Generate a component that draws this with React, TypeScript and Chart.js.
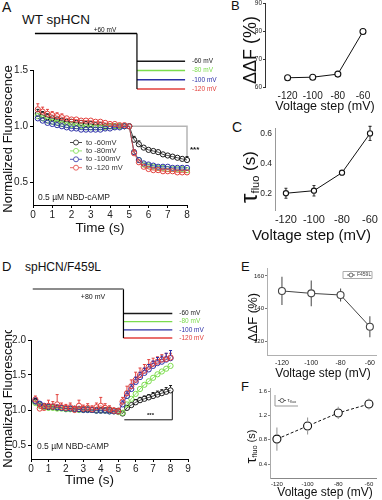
import React, { useEffect, useRef } from 'react';
import { Chart, registerables } from 'chart.js';
Chart.register(...registerables);

const FONT = "Arial, 'Liberation Sans', Helvetica, sans-serif";

// ---------------- data ----------------
const TIME_A = [0.25, 0.5, 0.75, 1.0, 1.25, 1.5, 1.75, 2.0, 2.25, 2.5, 2.75, 3.0, 3.25, 3.5, 3.75, 4.0, 4.25, 4.5, 4.75, 5.0, 5.25, 5.5, 5.75, 6.0, 6.25, 6.5, 6.75, 7.0, 7.25, 7.5, 7.75, 8.0];
const A_M60 = [1.11, 1.10, 1.08, 1.07, 1.06, 1.05, 1.04, 1.04, 1.03, 1.03, 1.02, 1.02, 1.01, 1.01, 1.00, 1.00, 1.00, 1.00, 1.00, 1.00, 0.88, 0.84, 0.81, 0.79, 0.78, 0.77, 0.75, 0.74, 0.73, 0.72, 0.71, 0.70];
const A_M60_ERR = [0.04, 0.03, 0.03, 0.02, 0.02, 0.02, 0.02, 0.02, 0.02, 0.02, 0.01, 0.01, 0.01, 0.01, 0.01, 0.01, 0.01, 0.01, 0.01, 0.01, 0.03, 0.03, 0.02, 0.02, 0.02, 0.02, 0.02, 0.02, 0.02, 0.02, 0.02, 0.03];
const A_M80 = [1.09, 1.07, 1.05, 1.04, 1.03, 1.02, 1.01, 1.01, 1.00, 1.00, 0.99, 0.99, 0.99, 0.99, 0.99, 1.00, 1.00, 1.00, 1.00, 1.00, 0.77, 0.70, 0.66, 0.65, 0.64, 0.63, 0.63, 0.62, 0.62, 0.62, 0.62, 0.61];
const A_M100 = [1.07, 1.05, 1.03, 1.02, 1.01, 1.00, 0.99, 0.98, 0.98, 0.97, 0.97, 0.97, 0.97, 0.97, 0.98, 0.98, 0.99, 0.99, 1.00, 1.00, 0.77, 0.70, 0.67, 0.66, 0.65, 0.64, 0.64, 0.64, 0.63, 0.63, 0.63, 0.63];
const A_M120 = [1.15, 1.13, 1.11, 1.10, 1.09, 1.08, 1.07, 1.06, 1.06, 1.05, 1.05, 1.05, 1.04, 1.04, 1.03, 1.02, 1.02, 1.01, 1.01, 1.00, 0.76, 0.68, 0.64, 0.62, 0.61, 0.61, 0.60, 0.60, 0.60, 0.59, 0.59, 0.59];
const A_M120_ERR = [0.05, 0.04, 0.04, 0.03, 0.03, 0.03, 0.02, 0.02, 0.02, 0.02, 0.02, 0.02, 0.02, 0.02, 0.02, 0.01, 0.01, 0.01, 0.01, 0.01, 0.03, 0.02, 0.02, 0.02, 0.02, 0.02, 0.02, 0.02, 0.02, 0.02, 0.02, 0.02];
const A_BRACKET = [{ x: 5.05, y: 1.0 }, { x: 8.0, y: 1.0 }, { x: 8.0, y: 0.72 }];

const TIME_D = [0.25, 0.5, 0.75, 1.0, 1.25, 1.5, 1.75, 2.0, 2.25, 2.5, 2.75, 3.0, 3.25, 3.5, 3.75, 4.0, 4.25, 4.5, 4.75, 5.0, 5.25, 5.5, 5.75, 6.0, 6.25, 6.5, 6.75, 7.0, 7.25, 7.5, 7.75, 8.0];
const D_M60 = [1.12, 1.08, 1.05, 1.04, 1.04, 1.03, 1.03, 1.02, 1.02, 1.02, 1.01, 1.01, 1.01, 1.00, 1.00, 1.00, 1.00, 1.00, 0.99, 0.99, 0.95, 1.03, 1.07, 1.11, 1.14, 1.16, 1.18, 1.20, 1.22, 1.24, 1.26, 1.28];
const D_M60_ERR = [0.04, 0.03, 0.03, 0.03, 0.02, 0.02, 0.02, 0.02, 0.02, 0.02, 0.02, 0.02, 0.02, 0.02, 0.02, 0.02, 0.02, 0.02, 0.02, 0.02, 0.03, 0.03, 0.03, 0.04, 0.04, 0.04, 0.04, 0.05, 0.05, 0.05, 0.06, 0.07];
const D_M80 = [1.10, 1.06, 1.04, 1.03, 1.03, 1.02, 1.02, 1.01, 1.01, 1.01, 1.00, 1.00, 1.00, 1.00, 0.99, 0.99, 0.99, 0.98, 0.98, 0.97, 0.96, 1.08, 1.16, 1.23, 1.30, 1.36, 1.41, 1.46, 1.51, 1.55, 1.59, 1.63];
const D_M100 = [1.13, 1.09, 1.06, 1.05, 1.05, 1.04, 1.03, 1.02, 1.02, 1.01, 1.01, 1.00, 1.00, 1.00, 0.99, 0.99, 0.99, 0.98, 0.98, 0.98, 1.08, 1.20, 1.30, 1.40, 1.47, 1.53, 1.58, 1.63, 1.67, 1.69, 1.72, 1.74];
const D_M100_ERR = [0.04, 0.03, 0.03, 0.03, 0.03, 0.03, 0.03, 0.03, 0.03, 0.03, 0.03, 0.03, 0.03, 0.03, 0.03, 0.03, 0.03, 0.03, 0.03, 0.03, 0.05, 0.06, 0.06, 0.07, 0.07, 0.07, 0.07, 0.07, 0.08, 0.08, 0.09, 0.11];
const D_M120 = [1.15, 1.02, 1.03, 1.06, 1.05, 1.08, 1.04, 1.03, 1.04, 1.00, 1.06, 1.02, 1.03, 1.01, 1.04, 1.06, 1.03, 1.01, 0.99, 0.98, 1.12, 1.24, 1.34, 1.43, 1.50, 1.56, 1.62, 1.66, 1.69, 1.72, 1.73, 1.75];
const D_M120_ERR = [0.05, 0.06, 0.06, 0.08, 0.07, 0.14, 0.06, 0.05, 0.06, 0.05, 0.08, 0.05, 0.06, 0.05, 0.06, 0.12, 0.06, 0.05, 0.04, 0.04, 0.06, 0.10, 0.09, 0.11, 0.10, 0.09, 0.10, 0.08, 0.07, 0.07, 0.08, 0.06];
const D_BRACKET = [{ x: 5.35, y: 0.86 }, { x: 8.1, y: 0.86 }, { x: 8.1, y: 1.27 }];

const SERIES_COLORS = ['#1a1a1a', '#7bdc4c', '#2b2fa6', '#e2403c'];
const LEGEND_A = ['to -60mV', 'to -80mV', 'to -100mV', 'to -120 mV'];
const STEP_LABELS = ['-60 mV', '-80 mV', '-100 mV', '-120 mV'];
const PROTO_LEVELS_A = ['+60 mV', 'gap1', 'gap2', '-60 mV', '-80 mV', '-100 mV', '-120 mV'];
const PROTO_LEVELS_D = ['+80 mV', 'gap1', 'gap2', '-60 mV', '-80 mV', '-100 mV', '-120 mV'];
const PROTO_TIMES_A = [0.1, 5.4, 7.9];
const PROTO_TIMES_D = [0.1, 5.3, 8.1];

const A_XTICKS = [0, 1, 2, 3, 4, 5, 6, 7, 8];
const A_YTICKS = [0.5, 1.0, 1.5];
const D_XTICKS = [0, 1, 2, 3, 4, 5, 6, 7, 8, 9];
const D_YTICKS = [0.5, 1.0, 1.5, 2.0];

const VOLTAGES = [-120, -100, -80, -60];
const B_DDF = [63.3, 63.5, 64.6, 79.8];
const B_YTICKS = [60, 70, 80, 90];
const C_TAU = [0.205, 0.222, 0.342, 0.604];
const C_TAU_ERR = [0.033, 0.035, 0.01, 0.047];
const C_YTICKS = [0.2, 0.4, 0.6];
const E_DDF = [150.8, 149.3, 148.3, 128.8];
const E_DDF_ERR = [8.7, 7.9, 4.0, 6.5];
const E_YTICKS = [120, 140, 160];
const F_TAU = [0.81, 1.025, 1.24, 1.386];
const F_TAU_ERR = [0.19, 0.14, 0.1, 0.09];
const F_YTICKS = [0.4, 0.8, 1.2, 1.6];

// ---------------- helpers ----------------
type Part = { t: string; size: number; dy?: number; bold?: boolean };
type TextItem = { parts: Part[]; x: number; y: number; color?: string; align?: 'left' | 'center' | 'right'; rot?: number; data?: boolean; dx?: number; dy?: number };
const P = (t: string, size: number, extra: Partial<Part> = {}): Part => ({ t, size, ...extra });
const fontStr = (p: Part) => `${p.bold ? 'bold ' : ''}${p.size}px ${FONT}`;

function drawRich(ctx: CanvasRenderingContext2D, parts: Part[], x: number, y: number, align: string, rot: number, color: string) {
  ctx.save();
  ctx.translate(x, y);
  if (rot) ctx.rotate((rot * Math.PI) / 180);
  ctx.fillStyle = color;
  ctx.textBaseline = 'middle';
  ctx.textAlign = 'left';
  let total = 0;
  const widths = parts.map((p) => {
    ctx.font = fontStr(p);
    const w = ctx.measureText(p.t).width;
    total += w;
    return w;
  });
  let x0 = align === 'left' ? 0 : align === 'right' ? -total : -total / 2;
  parts.forEach((p, i) => {
    ctx.font = fontStr(p);
    ctx.fillText(p.t, x0, p.dy || 0);
    x0 += widths[i];
  });
  ctx.restore();
}

function textPlugin(ox: number, oy: number, items: TextItem[]) {
  return {
    id: 'texts',
    afterDraw(chart: any) {
      const ctx = chart.ctx;
      for (const it of items) {
        let px = it.data ? chart.scales.x.getPixelForValue(it.x) : it.x - ox;
        let py = it.data ? chart.scales.y.getPixelForValue(it.y) : it.y - oy;
        px += it.dx || 0;
        py += it.dy || 0;
        drawRich(ctx, it.parts, px, py, it.align || 'center', it.rot || 0, it.color || '#111');
      }
    },
  };
}

type LegendEntry = { parts: Part[]; color: string; dash?: number[] };
function legendPlugin(ox: number, oy: number, o: { x: number; y: number; rowH: number; lineLen: number; r: number; gap: number; textColor: string; entries: LegendEntry[]; frame?: number[][]; frameColor?: string }) {
  return {
    id: 'miniLegend',
    afterDraw(chart: any) {
      const ctx = chart.ctx as CanvasRenderingContext2D;
      ctx.save();
      if (o.frame) {
        ctx.strokeStyle = o.frameColor || '#999';
        ctx.lineWidth = 1;
        ctx.beginPath();
        o.frame.forEach(([fx, fy], i) => (i ? ctx.lineTo(fx - ox, fy - oy) : ctx.moveTo(fx - ox, fy - oy)));
        ctx.stroke();
      }
      o.entries.forEach((e, i) => {
        const y = o.y - oy + i * o.rowH;
        const x = o.x - ox;
        ctx.strokeStyle = e.color;
        ctx.lineWidth = 0.8;
        ctx.setLineDash(e.dash || []);
        ctx.beginPath();
        ctx.moveTo(x, y);
        ctx.lineTo(x + o.lineLen, y);
        ctx.stroke();
        ctx.setLineDash([]);
        ctx.beginPath();
        ctx.arc(x + o.lineLen / 2, y, o.r, 0, Math.PI * 2);
        ctx.fillStyle = '#fff';
        ctx.fill();
        ctx.stroke();
        drawRich(ctx, e.parts, x + o.lineLen + o.gap, y, 'left', 0, o.textColor);
      });
      ctx.restore();
    },
  };
}

const errPlugin = {
  id: 'errbars',
  afterDatasetsDraw(chart: any) {
    const ctx = chart.ctx as CanvasRenderingContext2D;
    chart.data.datasets.forEach((ds: any, i: number) => {
      if (!ds.errUp && !ds.errDown) return;
      const meta = chart.getDatasetMeta(i);
      const ys = chart.scales[meta.yAxisID];
      ctx.save();
      ctx.strokeStyle = ds.errColor || ds.borderColor;
      ctx.lineWidth = ds.errWidth || 1;
      meta.data.forEach((pt: any, j: number) => {
        const v = ds.data[j].y;
        const x = pt.x;
        const y0 = ys.getPixelForValue(v);
        const r = ds.pointRadius || 0;
        const cap = ds.errCap || 0;
        const seg = (e: number | undefined, dir: number) => {
          if (!e) return;
          const y1 = ys.getPixelForValue(v + dir * e);
          if ((y0 - y1) * dir <= r) return;
          ctx.beginPath();
          ctx.moveTo(x, y0 - dir * r);
          ctx.lineTo(x, y1);
          if (cap) {
            ctx.moveTo(x - cap / 2, y1);
            ctx.lineTo(x + cap / 2, y1);
          }
          ctx.stroke();
        };
        seg(ds.errUp ? ds.errUp[j] : undefined, 1);
        seg(ds.errDown ? ds.errDown[j] : undefined, -1);
      });
      ctx.restore();
    });
  },
};

function endLabelPlugin(size: number, dx: number) {
  return {
    id: 'endLabels',
    afterDatasetsDraw(chart: any) {
      const ctx = chart.ctx as CanvasRenderingContext2D;
      chart.data.datasets.forEach((ds: any, i: number) => {
        if (!ds.endLabel) return;
        const meta = chart.getDatasetMeta(i);
        const pt = meta.data[meta.data.length - 1];
        drawRich(ctx, [P(ds.label, size)], pt.x + dx, pt.y, 'left', 0, ds.borderColor);
      });
    },
  };
}

type Box = { x: number; y: number; w: number; h: number };
type Plot = { l: number; t: number; r: number; b: number };
function fitArea(c: Box, p: Plot) {
  return {
    padding: { left: 0, top: p.t - c.y, right: c.x + c.w - p.r, bottom: 0 },
    ySize: p.l - c.x,
    xSize: c.y + c.h - p.b,
  };
}

function linScale(axis: 'x' | 'y', o: { min: number; max: number; ticks: number[]; size: number; font: number; fmt?: (v: number) => string; border?: string; tick?: string; tickLen?: number; pad?: number; color?: string }) {
  return {
    type: 'linear',
    position: axis === 'x' ? 'bottom' : 'left',
    min: o.min,
    max: o.max,
    afterBuildTicks: (s: any) => {
      s.ticks = o.ticks.map((v) => ({ value: v }));
    },
    afterFit: (s: any) => {
      if (axis === 'x') s.height = o.size;
      else s.width = o.size;
    },
    ticks: {
      autoSkip: false,
      maxRotation: 0,
      minRotation: 0,
      padding: o.pad ?? 2,
      color: o.color || '#222',
      font: { size: o.font, family: FONT },
      callback: (v: any) => (o.fmt ? o.fmt(Number(v)) : String(v)),
    },
    grid: { display: !!o.tick, drawOnChartArea: false, drawTicks: true, tickLength: o.tickLen ?? 3, color: o.tick || '#000', lineWidth: 1 },
    border: { display: !!o.border, color: o.border || '#000', width: 1 },
  };
}

function baseOptions(padding: any) {
  return {
    responsive: false,
    maintainAspectRatio: false,
    animation: false,
    devicePixelRatio: 1,
    events: [],
    layout: { padding },
    plugins: { legend: { display: false }, tooltip: { enabled: false }, title: { display: false } },
  };
}

function traceDS(times: number[], vals: number[], color: string, label: string, errUp?: number[]) {
  return {
    label,
    data: times.map((t, i) => ({ x: t, y: vals[i] })),
    borderColor: color,
    backgroundColor: 'rgba(0,0,0,0)',
    borderWidth: 0.8,
    pointRadius: 2.6,
    pointBorderWidth: 1,
    pointBackgroundColor: 'rgba(255,255,255,0)',
    pointBorderColor: color,
    clip: false,
    errUp,
    errCap: 3,
    errColor: color,
  };
}

function bracketDS(points: { x: number; y: number }[], color: string, width: number) {
  return { label: 'bracket', data: points, borderColor: color, borderWidth: width, pointRadius: 0, clip: false, fill: false };
}

function voltageDS(vals: number[], o: { color: string; width: number; r: number; dash?: number[]; err?: number[]; errColor?: string; cap?: number }) {
  return {
    label: 'v',
    data: VOLTAGES.map((v, i) => ({ x: v, y: vals[i] })),
    borderColor: o.color,
    borderWidth: o.width,
    borderDash: o.dash || [],
    pointRadius: o.r,
    pointBorderWidth: 1.1,
    pointBorderColor: o.color,
    pointBackgroundColor: '#fff',
    clip: false,
    errUp: o.err,
    errDown: o.err,
    errColor: o.errColor || o.color,
    errCap: o.cap || 0,
    errWidth: 1.1,
  };
}

function protocolConfig(c: Box, p: Plot, levels: string[], times: number[], xMax: number, holdColor: string, holdWidth: number, holdLabel: TextItem) {
  const hold = levels[0];
  const datasets: any[] = [
    { label: 'hold', data: [{ x: times[0], y: hold }, { x: times[1], y: hold }], borderColor: holdColor, borderWidth: holdWidth, pointRadius: 0, clip: false },
    { label: 'drop', data: [{ x: times[1], y: hold }, { x: times[1], y: STEP_LABELS[3] }], borderColor: '#000', borderWidth: 1.2, pointRadius: 0, clip: false },
  ];
  STEP_LABELS.forEach((lab, i) => {
    datasets.push({ label: lab, endLabel: true, data: [{ x: times[1], y: lab }, { x: times[2], y: lab }], borderColor: SERIES_COLORS[i], borderWidth: 1.3, pointRadius: 0, clip: false });
  });
  return {
    type: 'line',
    data: { datasets },
    options: {
      ...baseOptions({ left: p.l - c.x, top: p.t - c.y, right: c.x + c.w - p.r, bottom: c.y + c.h - p.b }),
      scales: {
        x: { type: 'linear', min: 0, max: xMax, display: false },
        y: { type: 'category', labels: levels, offset: false, display: false },
      },
    },
    plugins: [endLabelPlugin(6.5, 7), textPlugin(c.x, c.y, [holdLabel])],
  };
}

// ---------------- chart configs ----------------
const A_CANVAS: Box = { x: 0, y: 60, w: 200, h: 177 };
const A_PLOT: Plot = { l: 33, t: 70, r: 187, b: 205 };
const D_CANVAS: Box = { x: 0, y: 330, w: 200, h: 165 };
const D_PLOT: Plot = { l: 31, t: 340, r: 188, b: 459 };
const PA_CANVAS: Box = { x: 0, y: 20, w: 230, h: 75 };
const PA_PLOT: Plot = { l: 33, t: 33.5, r: 187, b: 89 };
const PD_CANVAS: Box = { x: 0, y: 280, w: 230, h: 65 };
const PD_PLOT: Plot = { l: 31, t: 289, r: 188, b: 338 };
const B_CANVAS: Box = { x: 242, y: -3, w: 140, h: 118 };
const B_PLOT: Plot = { l: 265, t: 3, r: 370.5, b: 87 };
const C_CANVAS: Box = { x: 240, y: 115, w: 142, h: 130 };
const C_PLOT: Plot = { l: 275, t: 128, r: 378, b: 210 };
const E_CANVAS: Box = { x: 242, y: 258, w: 140, h: 124 };
const E_PLOT: Plot = { l: 267, t: 268, r: 377, b: 355 };
const F_CANVAS: Box = { x: 242, y: 380, w: 140, h: 120 };
const F_PLOT: Plot = { l: 270, t: 388, r: 378, b: 478 };

const fmt1 = (v: number) => v.toFixed(1);

function traceConfig(c: Box, p: Plot, xMax: number, xt: number[], yMax: number, yt: number[], datasets: any[], texts: TextItem[], legend?: any) {
  const a = fitArea(c, p);
  const plugins: any[] = [errPlugin, textPlugin(c.x, c.y, texts)];
  if (legend) plugins.push(legendPlugin(c.x, c.y, legend));
  return {
    type: 'line',
    data: { datasets },
    options: {
      ...baseOptions(a.padding),
      scales: {
        x: linScale('x', { min: 0, max: xMax, ticks: xt, size: a.xSize, font: 10, border: '#000', tick: '#000', tickLen: 3, pad: 1 }),
        y: linScale('y', { min: 0.3, max: yMax, ticks: yt, size: a.ySize, font: 10, fmt: fmt1, border: '#000', tick: '#000', tickLen: 3, pad: 2 }),
      },
    },
    plugins,
  };
}

const makeA = () =>
  traceConfig(
    A_CANVAS, A_PLOT, 8, A_XTICKS, 1.5, A_YTICKS,
    [
      traceDS(TIME_A, A_M120, SERIES_COLORS[3], LEGEND_A[3], A_M120_ERR),
      traceDS(TIME_A, A_M100, SERIES_COLORS[2], LEGEND_A[2]),
      traceDS(TIME_A, A_M80, SERIES_COLORS[1], LEGEND_A[1]),
      traceDS(TIME_A, A_M60, SERIES_COLORS[0], LEGEND_A[0], A_M60_ERR),
      bracketDS(A_BRACKET, '#b5b5b5', 1.5),
    ],
    [
      { parts: [P('Normalized Fluorescence', 13)], x: 8, y: 139, rot: -90 },
      { parts: [P('Time (s)', 13.5)], x: 100, y: 228 },
      { parts: [P('0.5 \u00b5M NBD-cAMP', 8.5)], x: 38, y: 197.5, align: 'left', color: '#222' },
      { parts: [P('***', 8, { bold: true })], x: 8, y: 0.8, data: true, dx: 3, dy: 1, align: 'left' },
    ],
    {
      x: 70, y: 142.5, rowH: 8.4, lineLen: 12, r: 2.5, gap: 4, textColor: '#333',
      entries: LEGEND_A.map((l, i) => ({ parts: [P(l, 7.5)], color: SERIES_COLORS[i] })),
    }
  );

const makeD = () =>
  traceConfig(
    D_CANVAS, D_PLOT, 9, D_XTICKS, 2.0, D_YTICKS,
    [
      traceDS(TIME_D, D_M120, SERIES_COLORS[3], LEGEND_A[3], D_M120_ERR),
      traceDS(TIME_D, D_M100, SERIES_COLORS[2], LEGEND_A[2], D_M100_ERR),
      traceDS(TIME_D, D_M80, SERIES_COLORS[1], LEGEND_A[1]),
      traceDS(TIME_D, D_M60, SERIES_COLORS[0], LEGEND_A[0], D_M60_ERR),
      bracketDS(D_BRACKET, '#111', 1),
    ],
    [
      { parts: [P('Normalized Fluorescence', 13)], x: 8, y: 394, rot: -90 },
      { parts: [P('Time (s)', 13.5)], x: 89.5, y: 480 },
      { parts: [P('0.5 \u00b5M NBD-cAMP', 8.5)], x: 37, y: 447, align: 'left', color: '#222' },
      { parts: [P('***', 6, { bold: true })], x: 6.85, y: 0.86, data: true, dy: -4 },
    ]
  );

const makePA = () =>
  protocolConfig(PA_CANVAS, PA_PLOT, PROTO_LEVELS_A, PROTO_TIMES_A, 8, '#000', 1.3, { parts: [P(PROTO_LEVELS_A[0], 6.5)], x: 105, y: 30 });
const makePD = () =>
  protocolConfig(PD_CANVAS, PD_PLOT, PROTO_LEVELS_D, PROTO_TIMES_D, 9, '#8c8c8c', 2, { parts: [P(PROTO_LEVELS_D[0], 7)], x: 93, y: 297 });

const makeB = () => {
  const a = fitArea(B_CANVAS, B_PLOT);
  return {
    type: 'line',
    data: { datasets: [voltageDS(B_DDF, { color: '#111', width: 1, r: 3 })] },
    options: {
      ...baseOptions(a.padding),
      scales: {
        x: linScale('x', { min: -138, max: -54, ticks: VOLTAGES, size: a.xSize, font: 10, tickLen: 3, pad: 0 }),
        y: linScale('y', { min: 60, max: 90, ticks: B_YTICKS, size: a.ySize, font: 6.5, border: '#333', tick: '#333', tickLen: 2, pad: 1 }),
      },
    },
    plugins: [errPlugin, textPlugin(B_CANVAS.x, B_CANVAS.y, [
      { parts: [P('\u0394\u0394F (%)', 18)], x: 251.5, y: 50, rot: -90 },
      { parts: [P('Voltage step (mV)', 12.5)], x: 325, y: 107 },
    ])],
  };
};

const makeC = () => {
  const a = fitArea(C_CANVAS, C_PLOT);
  return {
    type: 'line',
    data: { datasets: [voltageDS(C_TAU, { color: '#111', width: 1, r: 2.6, err: C_TAU_ERR, errColor: '#333', cap: 3 })] },
    options: {
      ...baseOptions(a.padding),
      scales: {
        x: linScale('x', { min: -127.8, max: -55.1, ticks: VOLTAGES, size: a.xSize, font: 11, tickLen: 3, pad: 0 }),
        y: linScale('y', { min: 0.0933, max: 0.64, ticks: C_YTICKS, size: a.ySize, font: 8.5, fmt: fmt1, border: '#999', tickLen: 2, pad: 1 }),
      },
    },
    plugins: [errPlugin, textPlugin(C_CANVAS.x, C_CANVAS.y, [
      { parts: [P('\u03c4', 24), P('fluo', 11, { dy: 5 }), P(' (s)', 17)], x: 250.5, y: 177, rot: -90 },
      { parts: [P('Voltage step (mV)', 15)], x: 311.5, y: 236 },
    ])],
  };
};

const makeE = () => {
  const a = fitArea(E_CANVAS, E_PLOT);
  return {
    type: 'line',
    data: { datasets: [voltageDS(E_DDF, { color: '#444', width: 1, r: 3.5, err: E_DDF_ERR, errColor: '#555' })] },
    options: {
      ...baseOptions(a.padding),
      scales: {
        x: linScale('x', { min: -130.2, max: -55.2, ticks: VOLTAGES, size: a.xSize, font: 7, border: '#b0b0b0', tickLen: 3, pad: 1 }),
        y: linScale('y', { min: 111.4, max: 164.9, ticks: E_YTICKS, size: a.ySize, font: 6, border: '#b0b0b0', tick: '#777', tickLen: 2, pad: 1 }),
      },
    },
    plugins: [errPlugin, textPlugin(E_CANVAS.x, E_CANVAS.y, [
      { parts: [P('\u0394\u0394F (%)', 13)], x: 253, y: 317.5, rot: -90 },
      { parts: [P('Voltage step (mV)', 12)], x: 323, y: 374 },
    ]), legendPlugin(E_CANVAS.x, E_CANVAS.y, {
      x: 347, y: 275, rowH: 0, lineLen: 8, r: 2, gap: 2, textColor: '#444',
      entries: [{ parts: [P('F459L', 5)], color: '#444' }],
      frame: [[343, 271.5], [372, 271.5], [372, 278.5], [343, 278.5], [343, 271.5]], frameColor: '#aaa',
    })],
  };
};

const makeF = () => {
  const a = fitArea(F_CANVAS, F_PLOT);
  return {
    type: 'line',
    data: { datasets: [voltageDS(F_TAU, { color: '#111', width: 1, r: 4, dash: [3, 2], err: F_TAU_ERR, errColor: '#9a9a9a' })] },
    options: {
      ...baseOptions(a.padding),
      scales: {
        x: linScale('x', { min: -124.5, max: -54.8, ticks: VOLTAGES, size: a.xSize, font: 6, border: '#888', tickLen: 2, pad: 1 }),
        y: linScale('y', { min: 0.17, max: 1.65, ticks: F_YTICKS, size: a.ySize, font: 6, fmt: fmt1, border: '#aaa', tick: '#888', tickLen: 2, pad: 1 }),
      },
    },
    plugins: [errPlugin, textPlugin(F_CANVAS.x, F_CANVAS.y, [
      { parts: [P('\u03c4', 15), P('fluo', 7.5, { dy: 3 }), P(' (s)', 11)], x: 251.5, y: 446.5, rot: -90 },
      { parts: [P('Voltage step (mV)', 12)], x: 325, y: 493 },
    ]), legendPlugin(F_CANVAS.x, F_CANVAS.y, {
      x: 278, y: 400.5, rowH: 0, lineLen: 8, r: 2, gap: 1.5, textColor: '#444',
      entries: [{ parts: [P('\u03c4', 6), P('fluo', 4, { dy: 1.5 })], color: '#444', dash: [2, 1] }],
      frame: [[275, 395], [275, 406], [298, 406]], frameColor: '#999',
    })],
  };
};

// ---------------- components ----------------
function ChartBox({ box, make }: { box: Box; make: () => any }) {
  const ref = useRef<HTMLCanvasElement>(null);
  useEffect(() => {
    const chart = new Chart(ref.current as HTMLCanvasElement, make());
    return () => chart.destroy();
  }, []);
  return (
    <canvas
      ref={ref}
      width={box.w}
      height={box.h}
      style={{ position: 'absolute', left: box.x, top: box.y, width: box.w, height: box.h }}
    />
  );
}

function Label({ x, y, size, text }: { x: number; y: number; size: number; text: string }) {
  return (
    <div style={{ position: 'absolute', left: x, top: y, fontSize: size, lineHeight: 1, fontFamily: FONT, whiteSpace: 'nowrap', color: '#111' }}>
      {text}
    </div>
  );
}

export default function App() {
  return (
    <div style={{ position: 'absolute', left: 0, top: 0, width: 382, height: 500, background: '#fff', overflow: 'hidden' }}>
      <Label x={2} y={0.2} size={14} text="A" />
      <Label x={22} y={13} size={13.5} text="WT spHCN" />
      <Label x={231} y={-1.5} size={13} text="B" />
      <Label x={232} y={120} size={14} text="C" />
      <Label x={2} y={260.3} size={13} text="D" />
      <Label x={25} y={260.5} size={12} text="spHCN/F459L" />
      <Label x={241} y={260.3} size={13} text="E" />
      <Label x={241} y={380.3} size={13} text="F" />
      <ChartBox box={A_CANVAS} make={makeA} />
      <ChartBox box={PA_CANVAS} make={makePA} />
      <ChartBox box={D_CANVAS} make={makeD} />
      <ChartBox box={PD_CANVAS} make={makePD} />
      <ChartBox box={B_CANVAS} make={makeB} />
      <ChartBox box={C_CANVAS} make={makeC} />
      <ChartBox box={E_CANVAS} make={makeE} />
      <ChartBox box={F_CANVAS} make={makeF} />
    </div>
  );
}
